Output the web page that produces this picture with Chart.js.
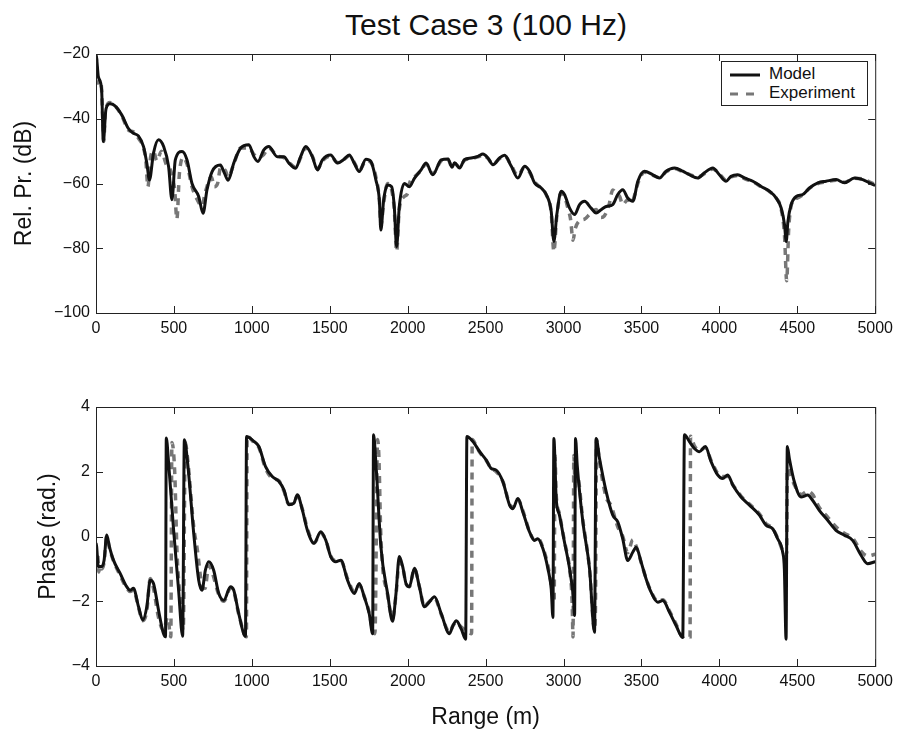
<!DOCTYPE html>
<html>
<head>
<meta charset="utf-8">
<script src="https://cdn.jsdelivr.net/npm/chart.js@4/dist/chart.umd.min.js"></script>
<style>
  body { margin: 0; background: #fff; font-family: "Liberation Sans", Arial, sans-serif; }
  #page { position: relative; width: 899px; height: 733px; overflow: hidden; }
  .box { position: absolute; left: 0; width: 899px; }
  #title { position: absolute; left: 0; width: 972px; top: 8px; text-align: center; font-size: 30px; color: #111; }
  #legend { position: absolute; left: 721px; top: 61px; width: 145px; height: 43px; border: 1px solid #222; background: #fff; font-size: 17px; color: #111; }
  #legend div { position: absolute; left: 8px; height: 20px; line-height: 20px; }
  #legend svg { vertical-align: middle; margin-right: 9px; }
</style>
</head>
<body>
<div id="page">
  <div id="title">Test Case 3 (100 Hz)</div>
  <div class="box" style="top:0;height:345px"><canvas id="levelChart" width="899" height="345"></canvas></div>
  <div class="box" style="top:345px;height:388px"><canvas id="phaseChart" width="899" height="388"></canvas></div>
  <div id="legend">
    <div style="top:2px"><svg width="30" height="6"><line x1="0" y1="3" x2="30" y2="3" stroke="#111" stroke-width="3"/></svg>Model</div>
    <div style="top:21px"><svg width="30" height="6"><line x1="0" y1="3" x2="30" y2="3" stroke="#777" stroke-width="3" stroke-dasharray="8,8"/></svg>Experiment</div>
  </div>
</div>
<script>
// range ticks shared by both panels
const rangeTicks = [0, 500, 1000, 1500, 2000, 2500, 3000, 3500, 4000, 4500, 5000];

// top panel: relative pressure (dB)
const modelRange = [0, 4, 15, 36, 47, 64, 90, 122, 165, 208, 240, 272, 305, 326, 343, 369, 401, 434, 466, 487, 509, 552, 584, 616, 659, 687, 712, 745, 798, 824, 848, 884, 927, 981, 1013, 1039, 1077, 1109, 1163, 1206, 1238, 1281, 1313, 1346, 1388, 1421, 1453, 1506, 1549, 1592, 1625, 1657, 1689, 1732, 1764, 1796, 1818, 1828, 1846, 1871, 1897, 1914, 1929, 1946, 1979, 2011, 2043, 2086, 2118, 2161, 2215, 2258, 2285, 2301, 2333, 2365, 2408, 2451, 2483, 2515, 2547, 2590, 2622, 2665, 2707, 2750, 2782, 2814, 2857, 2889, 2921, 2938, 2957, 2985, 3006, 3039, 3071, 3103, 3135, 3177, 3209, 3241, 3274, 3316, 3348, 3380, 3412, 3445, 3477, 3519, 3573, 3616, 3658, 3712, 3765, 3808, 3861, 3904, 3958, 4000, 4043, 4075, 4118, 4161, 4215, 4268, 4322, 4365, 4397, 4418, 4429, 4440, 4461, 4493, 4535, 4578, 4632, 4685, 4749, 4802, 4867, 4920, 4962, 5000];
const modelLevel = [-20.5, -21.2, -27, -31, -47, -37, -35.4, -36, -38.8, -43, -44.5, -45.3, -48.6, -53.7, -58.9, -50.6, -46.5, -48.6, -54.8, -65, -52.7, -50.1, -52.7, -60, -64, -69.2, -62, -56.3, -54.3, -56.8, -59, -53.7, -49.1, -48, -51.7, -53.2, -49.6, -48.6, -51.7, -51.7, -53.7, -55.3, -51.7, -48.6, -51.7, -55.8, -52.7, -51.2, -53.7, -52.5, -51.2, -53.7, -56.3, -52.5, -53.2, -58.9, -65, -74.4, -65, -60.5, -61, -67.2, -79.5, -67.2, -60, -61, -58.4, -55.8, -53.7, -57.3, -52.7, -52.4, -55, -53.6, -55.2, -52.6, -52.1, -51.6, -50.9, -52.1, -54.2, -52.1, -51.3, -54.7, -58.3, -54.7, -56.2, -59.8, -61.4, -63.4, -68.6, -77.9, -69.6, -62.4, -63.4, -67.6, -69.6, -66.5, -65.5, -67.6, -69.1, -68.1, -67.1, -66.5, -63.4, -61.9, -64.5, -65.5, -59.3, -56.2, -57.3, -58.3, -56.2, -55.2, -56.2, -57.3, -58.3, -56.7, -55.2, -57.3, -59.3, -57.8, -57.3, -58.3, -59.3, -60.9, -62.4, -64.5, -67.6, -72.7, -77.9, -71.7, -66.5, -64, -63.4, -61.4, -59.8, -59.3, -58.8, -59.8, -58.3, -58.8, -59.8, -60.6];

const expRange = [0, 6, 12, 25, 36, 45, 50, 60, 90, 122, 165, 208, 240, 272, 305, 320, 333, 350, 369, 390, 420, 450, 470, 490, 505, 519, 535, 560, 584, 616, 650, 680, 700, 740, 760, 780, 800, 830, 848, 884, 927, 981, 1013, 1039, 1077, 1109, 1163, 1206, 1238, 1281, 1313, 1346, 1388, 1421, 1453, 1506, 1549, 1592, 1625, 1657, 1689, 1732, 1764, 1796, 1818, 1828, 1846, 1871, 1897, 1914, 1929, 1946, 1979, 2000, 2011, 2043, 2086, 2118, 2161, 2215, 2258, 2285, 2301, 2333, 2365, 2408, 2451, 2483, 2515, 2547, 2590, 2622, 2665, 2707, 2750, 2782, 2814, 2857, 2889, 2921, 2938, 2957, 2985, 3006, 3030, 3045, 3061, 3075, 3103, 3135, 3177, 3209, 3241, 3262, 3290, 3316, 3337, 3360, 3380, 3412, 3434, 3460, 3477, 3519, 3573, 3616, 3658, 3712, 3765, 3808, 3861, 3904, 3958, 4000, 4043, 4075, 4118, 4161, 4215, 4268, 4322, 4365, 4397, 4418, 4432, 4445, 4470, 4500, 4535, 4578, 4632, 4685, 4749, 4802, 4867, 4920, 4962, 5000];
const expLevel = [-20, -24, -29, -28, -31, -42, -47, -38, -35, -36, -39, -43.5, -44, -46, -49, -53, -61, -52, -50, -53, -50, -54, -55, -58, -62, -71, -57, -52, -54, -61, -65, -67, -63, -58, -61, -60, -55, -56, -58, -54, -49, -49, -51, -52, -51, -49, -51.5, -52, -53.5, -55, -52, -49, -51.5, -55.5, -53, -51.5, -53.5, -52.5, -51.5, -53.5, -56, -53, -53.5, -58, -65, -73, -66, -60, -62, -68, -81, -68, -64, -63, -60, -58, -56, -54, -57, -53, -52.5, -55, -53.8, -55, -52.8, -52.3, -51.8, -51.2, -52.3, -54, -52.3, -51.5, -54.5, -57.5, -55, -56.5, -59.5, -61.5, -63.5, -69, -81, -70, -63, -64, -68, -71, -77.5, -74, -71.5, -71, -69, -68, -70.5, -70, -67, -62, -63, -64, -66.5, -65, -66, -63, -60, -56.5, -57.5, -58.2, -56.4, -55.4, -56.4, -57.2, -58, -57, -55.5, -57, -59, -58, -57.5, -58.5, -59.5, -61, -62.5, -64.5, -68, -76, -90, -74, -65.5, -64.5, -63.5, -61.5, -60, -59.5, -59, -59.6, -58.4, -58.6, -59.5, -60.3];

// bottom panel: phase (rad.)
const modelPhaseRange = [0, 4, 15, 36, 52, 69, 86, 112, 155, 197, 219, 240, 273, 300, 326, 348, 369, 401, 433, 446, 451, 466, 498, 530, 556, 567, 588, 627, 659, 680, 702, 723, 755, 788, 820, 863, 884, 916, 959, 966, 1013, 1045, 1088, 1131, 1174, 1206, 1238, 1270, 1292, 1324, 1356, 1399, 1442, 1474, 1506, 1539, 1571, 1614, 1657, 1689, 1721, 1753, 1775, 1781, 1796, 1828, 1871, 1903, 1925, 1946, 1968, 1989, 2011, 2043, 2075, 2107, 2140, 2172, 2215, 2268, 2291, 2312, 2344, 2372, 2380, 2419, 2462, 2504, 2536, 2568, 2611, 2654, 2675, 2707, 2739, 2782, 2814, 2835, 2868, 2900, 2921, 2932, 2938, 2953, 2974, 3006, 3039, 3064, 3071, 3077, 3088, 3124, 3167, 3199, 3209, 3231, 3274, 3316, 3348, 3380, 3412, 3445, 3466, 3498, 3530, 3562, 3605, 3637, 3680, 3722, 3765, 3776, 3808, 3840, 3872, 3910, 3947, 3989, 4021, 4054, 4086, 4139, 4193, 4257, 4299, 4342, 4374, 4406, 4417, 4428, 4436, 4449, 4481, 4524, 4567, 4598, 4641, 4695, 4748, 4802, 4855, 4909, 4951, 5000];
const modelPhase = [-0.2, -0.31, -0.93, -0.93, -0.73, 0.05, -0.31, -0.73, -1.14, -1.55, -1.66, -1.6, -2.17, -2.58, -2.17, -1.35, -1.45, -2.27, -3.0, -3.1, 3.04, 2.27, 0.2, -1.66, -3.08, 2.99, 2.27, 0.1, -1.35, -1.66, -1.04, -0.78, -1.04, -1.76, -1.97, -1.55, -1.66, -2.38, -3.08, 3.09, 2.94, 2.78, 2.16, 1.85, 1.7, 1.44, 0.98, 1.03, 1.29, 0.82, 0.2, -0.21, 0.15, -0.11, -0.62, -0.78, -0.73, -1.35, -1.76, -1.45, -1.86, -2.38, -3.0, 3.14, 2.27, -0.31, -1.76, -2.62, -1.76, -0.62, -0.93, -1.45, -1.55, -0.98, -1.55, -2.17, -2.02, -1.86, -2.38, -3.0, -2.75, -2.6, -2.86, -3.17, 3.09, 2.93, 2.62, 2.36, 2.1, 2.05, 1.69, 0.97, 0.86, 1.17, 0.76, 0.14, -0.12, -0.07, -0.38, -1.0, -1.62, -2.5, 3.03, 1.17, 0.66, -0.17, -1.0, -1.93, -2.44, 3.03, 2.2, 0.45, -1.0, -2.96, 3.03, 2.41, 1.38, 0.66, 0.45, -0.07, -0.74, -0.48, -0.33, -0.79, -1.31, -1.72, -2.03, -1.98, -2.34, -2.75, -3.12, 3.14, 2.93, 2.72, 2.62, 2.78, 2.31, 1.9, 1.79, 1.9, 1.59, 1.22, 0.97, 0.66, 0.35, 0.24, -0.07, -0.48, -1.0, -3.17, 2.78, 2.41, 1.69, 1.22, 1.28, 1.12, 0.81, 0.5, 0.19, 0.04, -0.12, -0.58, -0.84, -0.78];

const expPhaseRange = [0, 5, 10, 18, 25, 36, 52, 69, 86, 112, 155, 197, 219, 240, 273, 300, 326, 348, 369, 401, 433, 460, 480, 487, 505, 520, 540, 560, 573, 590, 627, 650, 680, 700, 723, 745, 788, 820, 863, 884, 916, 965, 970, 1013, 1045, 1088, 1131, 1174, 1206, 1238, 1270, 1292, 1324, 1356, 1399, 1442, 1474, 1506, 1539, 1571, 1614, 1657, 1689, 1721, 1753, 1775, 1790, 1807, 1815, 1828, 1871, 1903, 1925, 1946, 1968, 1989, 2011, 2043, 2075, 2107, 2140, 2172, 2215, 2268, 2291, 2312, 2344, 2372, 2410, 2414, 2440, 2462, 2504, 2536, 2568, 2611, 2654, 2675, 2707, 2739, 2782, 2814, 2835, 2868, 2900, 2921, 2940, 2945, 2953, 2974, 3006, 3039, 3055, 3061, 3066, 3075, 3088, 3124, 3167, 3199, 3205, 3212, 3231, 3274, 3300, 3316, 3348, 3380, 3412, 3445, 3466, 3498, 3530, 3562, 3605, 3637, 3680, 3722, 3765, 3790, 3812, 3815, 3840, 3872, 3910, 3947, 3989, 4021, 4054, 4086, 4139, 4193, 4257, 4299, 4342, 4374, 4406, 4417, 4432, 4436, 4449, 4481, 4524, 4567, 4598, 4641, 4695, 4748, 4802, 4855, 4909, 4951, 5000];
const expPhase = [-0.4, -1.0, -0.5, -1.1, -0.9, -1.0, -0.8, 0.0, -0.35, -0.75, -1.2, -1.6, -1.7, -1.65, -2.2, -2.6, -2.3, -1.3, -1.6, -2.5, -2.9, -2.5, -3.1, 2.9, 2.0, -0.5, -1.9, -2.9, 2.9, 2.3, 0.3, -0.4, -1.5, -1.6, -0.9, -1.1, -1.8, -2.0, -1.6, -1.7, -2.4, -3.1, 3.1, 2.9, 2.75, 2.1, 1.8, 1.72, 1.4, 1.0, 1.05, 1.25, 0.85, 0.25, -0.2, 0.1, -0.1, -0.6, -0.75, -0.75, -1.3, -1.7, -1.5, -1.85, -2.35, -2.9, -3.0, 3.0, 2.5, 0.0, -1.8, -2.5, -1.8, -0.8, -0.95, -1.45, -1.55, -1.0, -1.55, -2.15, -2.0, -1.9, -2.4, -2.95, -2.75, -2.65, -2.8, -2.9, -3.0, 3.0, 2.8, 2.6, 2.35, 2.1, 2.0, 1.7, 1.0, 0.9, 1.15, 0.8, 0.15, -0.1, -0.05, -0.35, -0.9, -1.5, -2.0, 2.5, 1.3, 0.7, -0.15, -1.0, -2.0, -3.1, 2.5, 1.5, 1.9, 0.5, -1.0, -2.9, -2.2, 3.0, 2.3, 1.2, 1.0, 0.8, 0.3, 0.0, -0.5, -0.1, -0.3, -0.8, -1.3, -1.7, -2.0, -1.95, -2.3, -2.7, -3.1, -3.05, -3.1, 3.1, 2.8, 2.65, 2.75, 2.35, 1.95, 1.85, 1.85, 1.6, 1.25, 1.0, 0.7, 0.4, 0.25, -0.05, -0.45, -0.6, -0.5, 2.1, 2.0, 1.6, 1.3, 1.4, 1.3, 0.9, 0.6, 0.3, 0.1, -0.05, -0.45, -0.6, -0.55];

const levelTicks = [-100, -80, -60, -40, -20];
const phaseTicks = [-4, -2, 0, 2, 4];

const toPoints = (xs, ys) => xs.map((x, i) => ({ x: x, y: ys[i] }));
const minusSign = v => String(v).replace('-', '\u2212');
const tickFont = { family: '"Liberation Sans", Arial, sans-serif', size: 16 };
const titleFont = { family: '"Liberation Sans", Arial, sans-serif', size: 23 };

// MATLAB style frame with inward ticks on all four sides
const frameTicks = {
  id: 'frameTicks',
  afterDatasetsDraw(chart) {
    const { ctx, chartArea: a, scales: { x, y } } = chart;
    ctx.save();
    ctx.strokeStyle = '#222';
    ctx.lineWidth = 1;
    ctx.strokeRect(a.left + 0.5, a.top + 0.5, a.right - a.left, a.bottom - a.top);
    ctx.beginPath();
    x.ticks.forEach(t => {
      const px = Math.round(x.getPixelForValue(t.value)) + 0.5;
      ctx.moveTo(px, a.bottom); ctx.lineTo(px, a.bottom - 7);
      ctx.moveTo(px, a.top); ctx.lineTo(px, a.top + 7);
    });
    y.ticks.forEach(t => {
      const py = Math.round(y.getPixelForValue(t.value)) + 0.5;
      ctx.moveTo(a.left, py); ctx.lineTo(a.left + 7, py);
      ctx.moveTo(a.right, py); ctx.lineTo(a.right - 7, py);
    });
    ctx.stroke();
    ctx.restore();
  }
};

function makePanel(id, model, exp, yTicks, yLabel, opts) {
  const ctx = document.getElementById(id).getContext('2d');
  return new Chart(ctx, {
    type: 'line',
    data: {
      datasets: [{
        label: 'Model',
        data: model,
        borderColor: '#111',
        borderWidth: 3,
        pointRadius: 0,
        cubicInterpolationMode: 'monotone'
      }, {
        label: 'Experiment',
        data: exp,
        borderColor: '#777',
        borderWidth: 3.5,
        borderDash: [7, 6],
        pointRadius: 0,
        cubicInterpolationMode: 'monotone'
      }]
    },
    options: {
      responsive: false,
      animation: false,
      layout: { padding: { left: 0, right: 23, top: opts.top, bottom: 0 } },
      plugins: { legend: { display: false }, tooltip: { enabled: false } },
      scales: {
        x: {
          type: 'linear',
          min: 0,
          max: 5000,
          afterBuildTicks: s => { s.ticks = rangeTicks.map(v => ({ value: v })); },
          afterFit: s => { s.height = opts.xHeight; },
          grid: { display: false, drawTicks: false },
          border: { display: false },
          ticks: { color: '#111', font: tickFont, padding: 6, maxRotation: 0, autoSkip: false, callback: v => String(v) },
          title: { display: !!opts.xTitle, text: opts.xTitle || '', color: '#111', font: titleFont, padding: { top: 0, bottom: 2 } }
        },
        y: {
          min: yTicks[0],
          max: yTicks[yTicks.length - 1],
          afterBuildTicks: s => { s.ticks = yTicks.map(v => ({ value: v })); },
          afterFit: s => { s.width = 96; },
          grid: { display: false, drawTicks: false },
          border: { display: false },
          ticks: { color: '#111', font: tickFont, padding: 6, callback: minusSign },
          title: { display: true, text: yLabel, color: '#111', font: titleFont, padding: { top: opts.yTitlePad, bottom: 0 } }
        }
      }
    },
    plugins: [frameTicks]
  });
}

makePanel('levelChart', toPoints(modelRange, modelLevel), toPoints(expRange, expLevel),
  levelTicks, 'Rel. Pr. (dB)', { top: 54, xHeight: 32, yTitlePad: 11 });
makePanel('phaseChart', toPoints(modelPhaseRange, modelPhase), toPoints(expPhaseRange, expPhase),
  phaseTicks, 'Phase (rad.)', { top: 62, xHeight: 67, yTitlePad: 35, xTitle: 'Range (m)' });
</script>
</body>
</html>
